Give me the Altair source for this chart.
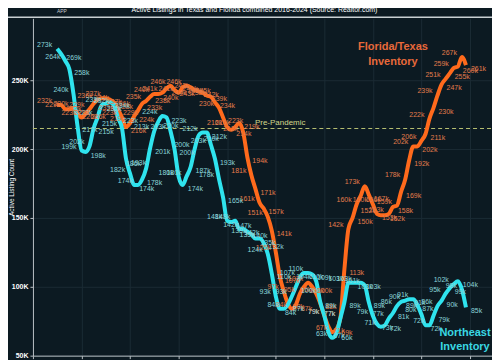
import altair as alt
import pandas as pd

FONT = "Liberation Sans"

# ---- data (thousands of active listings, monthly from Jul 2016) ----
start_month = "2016-07-01"
northeast = [
    273, 269, 264, 258, 240, 217, 199, 198, 202, 215, 223, 232,
    233, 234, 232, 223, 215, 193, 182, 174, 174, 178, 186, 201,
    213, 220, 224, 223, 213, 200, 180, 174, 180, 187, 200, 210,
    212, 212, 203, 193, 178, 165, 148, 147, 148, 142, 142, 140,
    138, 135, 135, 132, 124, 110, 93, 84, 84, 87, 93, 100,
    107, 110, 110, 109, 104, 89, 79, 67, 63, 66, 77, 89,
    103, 103, 103, 103, 101, 89, 79, 73, 71, 72, 77, 81,
    86, 89, 90, 91, 91, 87, 80, 72, 72, 79, 86, 90,
    95, 99, 102, 104, 98, 85,
]
florida_texas = [
    232, 232, 229, 229, 230, 226, 223, 226, 229, 233, 236, 237,
    237, 236, 234, 229, 223, 216, 219, 224, 228, 233, 235, 238,
    240, 240, 241, 244, 246, 243, 241, 245, 246, 245, 243, 242,
    241, 239, 238, 234, 230, 223, 216, 214, 216, 219, 212, 194,
    181, 171, 161, 157, 151, 141, 125, 107, 97, 88, 84, 87,
    95, 100, 103, 100, 95, 88, 79, 71, 67, 69, 77, 113,
    142, 150, 160, 166, 173, 167, 160, 153, 152, 152, 153, 158,
    159, 169, 178, 192, 202, 202, 206, 211, 222, 230, 239, 247,
    251, 255, 259, 260, 267, 261,
]
series_names = ["Florida/Texas", "Northeast"]
line_colors = ["#ff6a1c", "#2fe3ee"]
label_colors = ["#e27c4c", "#8ad4d8"]
pre_pandemic = 215000
y_ticks = [50000, 75000, 100000, 125000, 150000, 175000, 200000, 225000, 250000, 275000]

title_text = "Florida & Texas: Housing Inventory Surge"
subtitle_text = "Active Listings in Texas and Florida combined 2016-2024 (Source: Realtor.com)"

note_texts = ["Florida/Texas", "Inventory", "Northeast", "Inventory"]
note_dates = ["2023-06-01", "2023-06-01", "2024-11-24", "2024-11-24"]
note_values = [273900, 263000, 66200, 56000]
note_colors = ["#e8693a", "#e8693a", "#3ad8e2", "#3ad8e2"]

# ---- build table ----
months = pd.date_range(start_month, periods=len(northeast), freq="MS").strftime("%Y-%m-%d").tolist()
rows = []
for name, vals, lc, tc in zip(series_names, [florida_texas, northeast], line_colors, label_colors):
    for i, (d, v) in enumerate(zip(months, vals)):
        rows.append({"date": d, "value": v * 1000, "series": name, "label": f"{v}k",
                     "side": "L" if i % 2 == 0 else "R", "lcolor": lc, "tcolor": tc})
df = pd.DataFrame(rows)

W, H = 460, 338
x_scale = alt.Scale(domain=[alt.DateTime(year=2016, month=1, date=1),
                            alt.DateTime(year=2025, month=6, date=15)])
y_scale = alt.Scale(domain=[50000, 295000], nice=False, zero=False)

x_enc = alt.X("date:T", scale=x_scale,
              axis=alt.Axis(format="%Y", tickCount="year", title=None, labelColor="white",
                            labelFontSize=7, labelFont=FONT, domainColor="#b9c0c4",
                            tickColor="#b9c0c4", tickSize=3, gridColor="#1b2b34"))
y_enc = alt.Y("value:Q", scale=y_scale,
              axis=alt.Axis(values=y_ticks, labelExpr="datum.value / 1000 + 'K'",
                            title="Active Listing Count", titleColor="white", titleFontSize=6.5,
                            titleFont=FONT, titleFontWeight="normal", titleX=-21, titleY=169,
                            titleAngle=-90, titleAlign="center", titleBaseline="middle",
                            labelColor="white", labelFontSize=7, labelFont=FONT,
                            labelFontWeight="bold", labelPadding=2, domainColor="#b9c0c4",
                            tickColor="#b9c0c4", tickSize=3, gridColor="#1b2b34"))

base = alt.Chart(df)

lines = base.mark_line(strokeWidth=4, interpolate="monotone").encode(
    x=x_enc, y=y_enc, detail="series:N",
    color=alt.Color("lcolor:N", scale=None),
)

text_common = dict(fontSize=7, font=FONT)
labels_left = base.transform_filter("datum.side == 'L'").mark_text(
    align="right", dx=-5, dy=-4, **text_common).encode(
    x="date:T", y="value:Q", text="label:N", color=alt.Color("tcolor:N", scale=None))
labels_right = base.transform_filter("datum.side == 'R'").mark_text(
    align="left", dx=5, dy=4, **text_common).encode(
    x="date:T", y="value:Q", text="label:N", color=alt.Color("tcolor:N", scale=None))

pre_df = pd.DataFrame({"value": [pre_pandemic], "date": ["2020-07-28"], "text": ["Pre-Pandemic"]})
pre_rule = alt.Chart(pre_df).mark_rule(color="#b5bd70", strokeDash=[4, 3], strokeWidth=1.2).encode(
    y="value:Q", x=alt.value(0), x2=alt.value(W))
pre_text = alt.Chart(pre_df).mark_text(align="left", baseline="bottom", dy=-1, fontSize=8,
                                       font=FONT, color="#d2d88a").encode(
    x="date:T", y="value:Q", text="text:N")

notes_df = pd.DataFrame({"date": note_dates, "value": note_values, "text": note_texts,
                         "color": note_colors})
notes = alt.Chart(notes_df).mark_text(fontSize=11, fontWeight="bold", font=FONT,
                                      align="center", baseline="middle").encode(
    x="date:T", y="value:Q", text="text:N", color=alt.Color("color:N", scale=None))

hdr = pd.DataFrame({"t": [0]})
title_mark = alt.Chart(hdr).mark_text(text=title_text, fontSize=11, fontWeight="bold", font=FONT,
                                      color="white", align="center", baseline="middle").encode(
    x=alt.value(224), y=alt.value(-16))
subtitle_mark = alt.Chart(hdr).mark_text(text=subtitle_text, fontSize=7, font=FONT,
                                         color="white", align="center", baseline="middle").encode(
    x=alt.value(222), y=alt.value(-8))
separator = alt.Chart(hdr).mark_rule(color="#c9d0d3", strokeWidth=1.5).encode(
    x=alt.value(-25), x2=alt.value(W), y=alt.value(-1))
logo = alt.Chart(hdr).mark_text(text="re:ventore", fontSize=15, font=FONT, color="white",
                                align="left", baseline="middle").encode(
    x=alt.value(-33), y=alt.value(-18))
logo_app = alt.Chart(hdr).mark_text(text="APP", fontSize=5, font=FONT, color="#c8cdd0",
                                    align="left", baseline="middle").encode(
    x=alt.value(24), y=alt.value(-7))

chart = alt.layer(
    pre_rule, lines, labels_left, labels_right, pre_text, notes,
    separator, title_mark, subtitle_mark, logo, logo_app,
).properties(
    width=W, height=H,
    autosize=alt.AutoSizeParams(type="none"),
    padding={"left": 25, "top": 10, "right": 0, "bottom": 10},
).configure(
    background="#0c1a22",
).configure_view(
    stroke=None,
)

chart.save("out.html", embed_options={"renderer": "svg", "actions": False})
